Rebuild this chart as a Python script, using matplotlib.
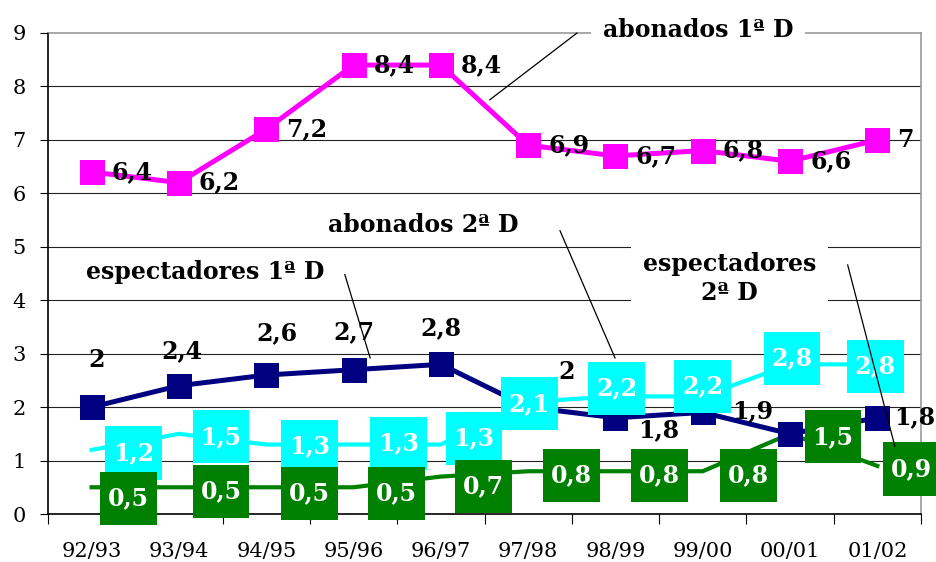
import matplotlib.pyplot as plt
from matplotlib.path import Path
import numpy as np

temporadas = ['92/93', '93/94', '94/95', '95/96', '96/97',
              '97/98', '98/99', '99/00', '00/01', '01/02']
abonados_1 = [6.4, 6.2, 7.2, 8.4, 8.4, 6.9, 6.7, 6.8, 6.6, 7]
espectadores_1 = [2, 2.4, 2.6, 2.7, 2.8, 2, 1.8, 1.9, 1.5, 1.8]
abonados_2 = [1.2, 1.5, 1.3, 1.3, 1.3, 2.1, 2.2, 2.2, 2.8, 2.8]
espectadores_2 = [0.5, 0.5, 0.5, 0.5, 0.7, 0.8, 0.8, 0.8, 1.5, 0.9]

# desplazamientos de las etiquetas (pixeles), colocadas a mano como en el original
# (la etiqueta 1,5 de espectadores 1a D queda tapada en el original -> None)
off_esp1 = [(5, 47), (3, 35), (11, 42), (0, 38), (0, 36),
            (38, 35), (43, -12), (50, 1), None, (37, 1)]
off_abo2 = [(42, -3), (42, -3), (43, -2), (45, 1), (33, 6),
            (1, -2), (1, 8), (0, 10), (2, 6), (-2, -2)]
off_esp2 = [(37, -11), (42, -4), (43, -6), (43, -6), (43, -10),
            (43, -4), (44, -4), (46, -4), (43, -3), (34, -3)]

SERIF = 'DejaVu Serif'


def coma(v):
    return ('%g' % v).replace('.', ',')


def caja(x0, y0, w, h, mutation_size):
    # rectangulo con mas relleno vertical que horizontal (como Excel)
    px = 0.33 * mutation_size
    py = 0.62 * mutation_size
    x0, y0, x1, y1 = x0 - px, y0 - py, x0 + w + px, y0 + h + py
    return Path([(x0, y0), (x1, y0), (x1, y1), (x0, y1), (x0, y0)], closed=True)


fig = plt.figure(figsize=(9.36, 5.62), dpi=100)
ax = fig.add_axes([48 / 936, 1 - 514 / 562, 873 / 936, 481 / 562])

x = np.arange(len(temporadas))
ax.set_xlim(-0.5, len(temporadas) - 0.5)
ax.set_ylim(0, 9)

for yv in range(1, 9):
    ax.axhline(yv, color='#222222', lw=0.8, zorder=0)

ax.plot(x, espectadores_2, color='#008000', lw=3, zorder=2)
ax.plot(x, abonados_2, color='#00FFFF', lw=3, zorder=2)
ax.plot(x, espectadores_1, color='#000080', lw=3.6, marker='s',
        markersize=18, markeredgewidth=0, zorder=3)
ax.plot(x, abonados_1, color='#FF00FF', lw=3.6, marker='s',
        markersize=18, markeredgewidth=0, zorder=3)

bold = dict(family=SERIF, weight='bold', fontsize=17)

for xi, v in zip(x, abonados_1):
    ax.annotate(coma(v), (xi, v), xytext=(20, 0), textcoords='offset pixels',
                ha='left', va='center', color='black', zorder=5, **bold)

for xi, v, o in zip(x, espectadores_1, off_esp1):
    if o is None:
        continue
    ax.annotate(coma(v), (xi, v), xytext=o, textcoords='offset pixels',
                ha='center', va='center', color='black', zorder=4, **bold)

for xi, v, o in zip(x, abonados_2, off_abo2):
    ax.annotate(coma(v), (xi, v), xytext=o, textcoords='offset pixels',
                ha='center', va='center', color='white', zorder=6,
                annotation_clip=False,
                bbox=dict(boxstyle=caja, fc='#00FFFF', ec='none'),
                **bold)

for xi, v, o in zip(x, espectadores_2, off_esp2):
    ax.annotate(coma(v), (xi, v), xytext=o, textcoords='offset pixels',
                ha='center', va='center', color='white', zorder=6,
                annotation_clip=False,
                bbox=dict(boxstyle=caja, fc='#008000', ec='none'),
                **bold)

# rotulos de las series con su linea guia
rotulos = [
    ('abonados 1ª D', (6.95, 9.06), 0.5, [(5.56, 9.0), (4.56, 7.75)]),
    ('abonados 2ª D', (3.8, 5.41), 0.1, [(5.365, 5.30), (5.995, 2.92)]),
    ('espectadores 1ª D', (1.3, 4.53), 0.1, [(2.90, 4.48), (3.19, 2.92)]),
    ('espectadores\n2ª D', (7.31, 4.41), 0.5, [(8.66, 4.66), (9.20, 1.27)]),
]
for txt, pos, pad, linea in rotulos:
    ax.text(pos[0], pos[1], txt, ha='center', va='center', zorder=8,
            linespacing=1.25, clip_on=False,
            bbox=dict(boxstyle='square,pad=%g' % pad, fc='white', ec='none'),
            **bold)
    (x0, y0), (x1, y1) = linea
    ax.plot([x0, x1], [y0, y1], color='black', lw=0.9, zorder=9, clip_on=False)

ax.set_yticks(range(0, 10))
ax.set_yticklabels([str(i) for i in range(0, 10)], family=SERIF, fontsize=15)
ax.tick_params(axis='y', length=6, width=0.8, pad=10)

ax.set_xticks(np.arange(-0.5, len(temporadas)), labels=[''] * (len(temporadas) + 1))
ax.tick_params(axis='x', which='major', length=7, width=0.8, direction='out')
ax.set_xticks(x, minor=True)
ax.set_xticklabels(temporadas, minor=True, family=SERIF, fontsize=15)
ax.tick_params(axis='x', which='minor', length=0, pad=20)

ax.spines['left'].set_color('black')
ax.spines['bottom'].set_color('black')
ax.spines['top'].set_color('#999999')
ax.spines['right'].set_color('#999999')
for s in ax.spines.values():
    s.set_linewidth(1.2)
    s.set_zorder(1)

plt.savefig('out.png', dpi=100)
